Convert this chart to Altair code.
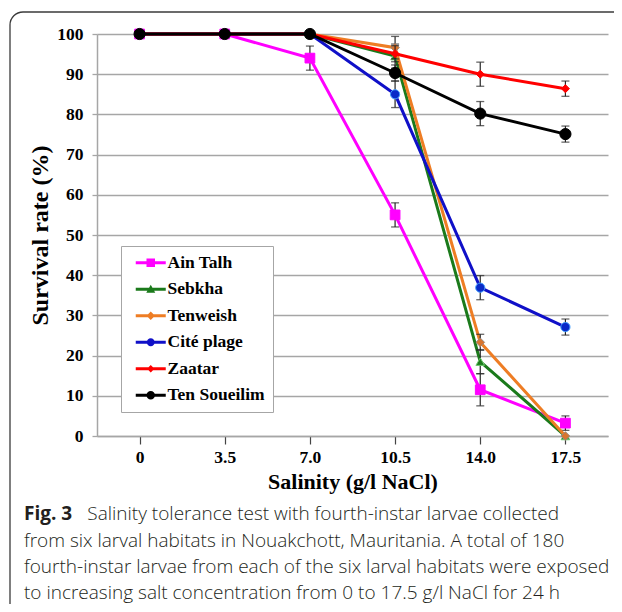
import altair as alt
import pandas as pd

# ---------------- data ----------------
salinity = ["0", "3.5", "7.0", "10.5", "14.0", "17.5"]
series_names = ["Ain Talh", "Sebkha", "Tenweish", "Cité plage", "Zaatar", "Ten Soueilim"]

ain_talh = [100, 100, 94, 55, 11.5, 3.2]
ain_talh_err = [None, None, 3, 3, 4, 1.8]
sebkha = [100, 100, 100, 94.5, 18.5, 0]
sebkha_err = [None, None, None, 3, 3, None]
tenweish = [100, 100, 100, 96.6, 23.3, 0]
tenweish_err = [None, None, None, 2.8, 2, None]
cite_plage = [100, 100, 100, 85, 36.9, 27.1]
cite_plage_err = [None, None, None, 3.3, 3, 2]
zaatar = [100, 100, 100, 95.1, 90, 86.4]
zaatar_err = [None, None, None, 2, 3, 1.9]
ten_soueilim = [100, 100, 100, 90.3, 80.2, 75.1]
ten_soueilim_err = [None, None, None, 2, 3, 2]

values = [ain_talh, sebkha, tenweish, cite_plage, zaatar, ten_soueilim]
errors = [ain_talh_err, sebkha_err, tenweish_err, cite_plage_err, zaatar_err, ten_soueilim_err]

line_colors = ["#FF00FF", "#1B7A1B", "#EE7D24", "#1010C8", "#FF0000", "#000000"]
marker_fill = ["#FF00FF", "#1B7A1B", "#D9752E", "#0A2AC8", "#FF0000", "#000000"]
marker_stroke = ["#FF00FF", "#6FCB6F", "#9A8A80", "#45A0FF", "#FF0000", "#000000"]
marker_shape = ["square", "triangle-up", "diamond", "circle", "diamond", "circle"]
marker_size = [95, 75, 75, 85, 65, 125]

# legend symbols: line segment + marker, as custom paths
legend_paths = [
    "M-3,-0.3H3V0.3H-3Z M-0.85,-0.85H0.85V0.85H-0.85Z",
    "M-3,-0.3H3V0.3H-3Z M0,-0.9L0.9,0.7H-0.9Z",
    "M-3,-0.3H3V0.3H-3Z M0,-0.85L0.85,0L0,0.85L-0.85,0Z",
    "M-3,-0.3H3V0.3H-3Z M-0.8,0A0.8,0.8 0 1,1 0.8,0A0.8,0.8 0 1,1 -0.8,0Z",
    "M-3,-0.3H3V0.3H-3Z M0,-0.75L0.75,0L0,0.75L-0.75,0Z",
    "M-3,-0.3H3V0.3H-3Z M-0.85,0A0.85,0.85 0 1,1 0.85,0A0.85,0.85 0 1,1 -0.85,0Z",
]

caption_bold = "Fig. 3"
caption_lines = [
    "Salinity tolerance test with fourth-instar larvae collected",
    "from six larval habitats in Nouakchott, Mauritania. A total of 180",
    "fourth-instar larvae from each of the six larval habitats were exposed",
    "to increasing salt concentration from 0 to 17.5 g/l NaCl for 24 h",
]

# ---------------- layout ----------------
W, H = 511, 402
SERIF = "Liberation Serif"

x_axis = alt.Axis(
    title="Salinity (g/l NaCl)", labelAngle=0, grid=False,
    labelFont=SERIF, labelFontSize=17.5, labelFontWeight="bold", labelColor="black",
    labelBaseline="alphabetic", labelPadding=18,
    tickSize=8, tickColor="#444444", tickWidth=1.2,
    domainColor="#A6A6A6", domainWidth=1.5,
    titleFont=SERIF, titleFontSize=22, titleFontWeight="bold", titleColor="black",
    titleBaseline="alphabetic", titleY=52,
)
y_axis = alt.Axis(
    title="Survival rate (%)", values=list(range(0, 101, 10)), grid=True,
    gridColor="#A6A6A6", gridWidth=1.3,
    labelFont=SERIF, labelFontSize=17.5, labelFontWeight="bold", labelColor="black",
    labelPadding=9, tickSize=5, tickColor="#A6A6A6", tickWidth=1.3,
    domainColor="#A6A6A6", domainWidth=1.5,
    titleFont=SERIF, titleFontSize=24, titleFontWeight="bold", titleColor="black",
    titleAngle=-90, titleBaseline="alphabetic", titleAlign="center",
    titleX=-50, titleY=H / 2,
)
x_scale = alt.Scale(type="point", domain=salinity, padding=0.5)
y_scale = alt.Scale(domain=[0, 100], nice=False)


def X():
    return alt.X("sal:N", sort=salinity, scale=x_scale, axis=x_axis)


layers = []

# frame around figure (top edge, left edge and rounded top-left corner)
one = pd.DataFrame({"k": [0]})
FRAME = "#3A3A3A"
layers.append(alt.Chart(one).mark_rule(color=FRAME, strokeWidth=1.3).encode(
    x=alt.value(-74), x2=alt.value(700), y=alt.value(-22)))
layers.append(alt.Chart(one).mark_rule(color=FRAME, strokeWidth=1.3).encode(
    x=alt.value(-87), y=alt.value(-9), y2=alt.value(700)))
layers.append(alt.Chart(one).mark_arc(
    radius=13, radius2=13, theta=4.7124, theta2=6.2832,
    fillOpacity=0, stroke=FRAME, strokeWidth=1.3,
).encode(x=alt.value(-74), y=alt.value(-9)))

for i, name in enumerate(series_names):
    rows = []
    for s, v, e in zip(salinity, values[i], errors[i]):
        rows.append({
            "sal": s, "val": v,
            "lo": (v - e) if e is not None else None,
            "hi": (v + e) if e is not None else None,
        })
    df = pd.DataFrame(rows)
    base = alt.Chart(df)
    line = base.mark_line(color=line_colors[i], strokeWidth=3).encode(
        x=X(), y=alt.Y("val:Q", scale=y_scale, axis=y_axis)
    )
    edf = base.transform_filter("isValid(datum.lo)")
    rule = edf.mark_rule(color="#262626", strokeWidth=1.2).encode(
        x=X(), y=alt.Y("lo:Q", scale=y_scale, axis=y_axis), y2="hi:Q"
    )
    cap_lo = edf.mark_tick(color="#262626", size=8, thickness=1.3, orient="horizontal").encode(
        x=X(), y=alt.Y("lo:Q", scale=y_scale, axis=y_axis)
    )
    cap_hi = edf.mark_tick(color="#262626", size=8, thickness=1.3, orient="horizontal").encode(
        x=X(), y=alt.Y("hi:Q", scale=y_scale, axis=y_axis)
    )
    pts = base.mark_point(
        filled=True, shape=marker_shape[i], size=marker_size[i], opacity=1,
        fill=marker_fill[i], stroke=marker_stroke[i], strokeWidth=1,
    ).encode(x=X(), y=alt.Y("val:Q", scale=y_scale, axis=y_axis))
    layers += [line, rule, cap_lo, cap_hi, pts]

# legend (drawn from its own scales, marks themselves filtered out)
legend = alt.Legend(
    title=None, orient="none", legendX=24, legendY=212, direction="vertical",
    symbolSize=100, symbolStrokeWidth=0, symbolOffset=13, labelOffset=8,
    labelFont=SERIF, labelFontSize=17.5, labelFontWeight="bold", labelColor="black",
    rowPadding=7.5, padding=8, strokeColor="#A6A6A6", fillColor="white",
    symbolOpacity=1,
)
leg_layer = alt.Chart(pd.DataFrame({"lg": series_names})).transform_filter("false").mark_point(
    filled=True, opacity=1
).encode(
    color=alt.Color("lg:N", scale=alt.Scale(domain=series_names, range=line_colors), legend=legend),
    shape=alt.Shape("lg:N", scale=alt.Scale(domain=series_names, range=legend_paths), legend=legend),
)
layers.append(leg_layer)

# caption
CAP_FONT = "Open Sans"
CAP_COLOR = "#231F20"


def cap(txt, x, y, weight):
    return alt.Chart(pd.DataFrame({"t": [txt]})).mark_text(
        align="left", baseline="alphabetic", font=CAP_FONT, fontSize=19,
        fontWeight=weight, color=CAP_COLOR,
    ).encode(x=alt.value(x), y=alt.value(y), text="t:N")


layers.append(cap(caption_bold, -73, 486, "bold"))
layers.append(cap(caption_lines[0], -9.7, 486, 300))
layers.append(cap(caption_lines[1], -73, 512.5, 300))
layers.append(cap(caption_lines[2], -73, 539, 300))
layers.append(cap(caption_lines[3], -73, 565, 300))

chart = alt.layer(*layers).properties(
    width=W, height=H,
    autosize=alt.AutoSizeParams(type="none"),
    padding={"left": 89, "top": 26, "right": 6, "bottom": 168},
    background="white",
).configure_view(stroke=None)

chart.save("out.html", embed_options={"renderer": "svg", "actions": False})
